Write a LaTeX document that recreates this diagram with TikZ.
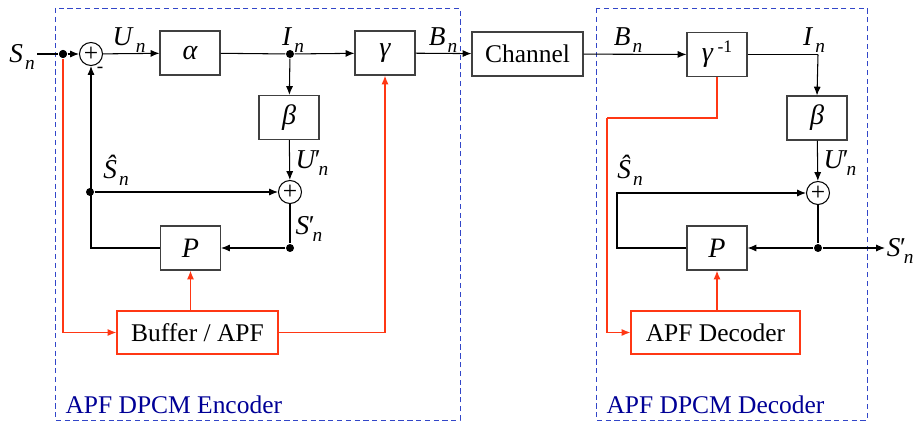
\documentclass[tikz,border=0pt]{standalone}
\usepackage{fontspec}
\setmainfont{Liberation Serif}
\usetikzlibrary{arrows.meta}
\definecolor{apfred}{RGB}{255,55,20}
\definecolor{frameblue}{RGB}{50,70,200}
\definecolor{capblue}{RGB}{0,0,150}
\newcommand{\sig}[2]{\textit{#1}\kern0.08em\raisebox{-0.55ex}{\fontsize{11}{12}\selectfont\textit{#2}}}
\newcommand{\pr}{\kern-0.08em′\kern-0.1em}
\begin{document}
\begin{tikzpicture}[x=0.02cm,y=-0.02cm,
	font=\fontsize{14.5}{17}\selectfont,
	>={Latex[length=5pt,width=4pt]},
	line width=0.6pt,
	blk/.style={draw=black!75, minimum width=1.2cm, minimum height=0.88cm, inner sep=0pt, font=\fontsize{16}{18}\selectfont\itshape},
	apfblk/.style={draw=apfred, minimum height=0.86cm, inner sep=0pt},
	sumc/.style={draw, circle, minimum size=0.46cm, inner sep=0pt},
	jdot/.style={fill, circle, minimum size=0.16cm, inner sep=0pt},
	dpcmframe/.style={draw=frameblue, dash pattern=on 3pt off 2pt, line width=0.5pt},
	sym/.style={font=\fontsize{15.5}{18}\selectfont, inner sep=0pt},
	redline/.style={draw=apfred, line width=0.8pt}]
	\useasboundingbox (0,0) rectangle (916,422);
	
	\draw[dpcmframe] (55,8) rectangle (460,420);
	\draw[dpcmframe] (596,8) rectangle (867,420);
	\node[anchor=base west, inner sep=0pt, text=capblue] (enccap) at (65,413) {APF DPCM Encoder};
	\node[anchor=base west, inner sep=0pt, text=capblue] (deccap) at (606,413) {APF DPCM Decoder};
	
	% encoder
	\coordinate (in) at (37,54);
	\node[jdot] (jin) at (63,54) {};
	\node[sumc] (sum1) at (91,54) {+};
	\node[blk] (alpha) at (190,53) {α};
	\node[jdot] (jI) at (290,54) {};
	\node[blk] (gamma) at (385,53) {γ};
	\node[blk] (beta) at (289,117.5) {β};
	\node[sumc] (sum2) at (290,192) {+};
	\node[jdot] (jS) at (90,192) {};
	\node[jdot] (jSp) at (290,248) {};
	\node[blk] (P) at (190.5,248) {P};
	\node[apfblk, minimum width=3.22cm] (buffer) at (197.5,332.5) {Buffer / APF};
	
	\node[blk, minimum width=2.22cm, font=\fontsize{14.5}{17}\selectfont] (channel) at (527.5,54) {Channel};
	
	\draw (in) -- (jin);
	\draw[->] (jin) -- (sum1.west);
	\draw[->] (sum1) -- (alpha);
	\draw (alpha) -- (jI);
	\draw[->] (jI) -- (gamma);
	\draw[->] (jI) -- (beta);
	\draw[->] (beta) -- (sum2);
	\draw[->] (jS) -- (sum2);
	\draw (sum2) -- (jSp);
	\draw[->] (jSp) -- (P);
	\draw[->] (P.west) -| (sum1.south);
	\draw[->] (gamma) -- (channel);
	
	\draw[redline,->] (jin) |- (buffer.west);
	\draw[redline,->] (P.south |- buffer.north) -- (P.south);
	\draw[redline,->] (buffer.east) -| (gamma.south);
	\node[jdot] at (jin) {};
	
	\node[sym] (lSn) at (22,57) {\sig{S}{n}};
	\node[font=\fontsize{11}{12}\selectfont] (minus) at (100,70) {-};
	\node[sym] (lUn) at (129,40) {\sig{U}{n}};
	\node[sym] (lIn) at (293,40) {\sig{I}{n}};
	\node[sym] (lBn) at (443,40) {\sig{B}{n}};
	\node[sym] (lUpn) at (312,163) {\sig{U\pr}{n}};
	\node[sym] (lShn) at (116,170) {\sig{Ŝ}{n}};
	\node[sym] (lSpn) at (309,229) {\sig{S\pr}{n}};
	
	% decoder
	\node[blk] (ginv) at (717,54.5) {γ\,\raisebox{0.7ex}{\fontsize{10}{12}\selectfont\upshape -1}};
	\coordinate (Icorner) at (818,54.5);
	\node[blk] (beta2) at (817,118) {β};
	\node[sumc] (sum3) at (818,193) {+};
	\node[jdot] (jD) at (818,248) {};
	\node[blk] (P2) at (717,248) {P};
	\coordinate (fbk) at (617,248);
	\coordinate (out) at (885,248);
	\coordinate (rbend) at (607,118);
	\node[apfblk, minimum width=3.38cm] (apfdec) at (715.5,332.5) {APF Decoder};
	
	\draw[->] (channel) -- (ginv);
	\draw (ginv.east) -- (Icorner);
	\draw[->] (Icorner) -- (beta2.north);
	\draw[->] (beta2) -- (sum3);
	\draw (sum3) -- (jD);
	\draw[->] (jD) -- (P2);
	\draw[->] (jD) -- (out);
	\draw[->] (P2.west) -- (fbk) |- (sum3.west);
	
	\draw[redline] (ginv.south) |- (rbend);
	\draw[redline,->] (rbend) |- (apfdec.west);
	\draw[redline,->] (P2.south |- apfdec.north) -- (P2.south);
	
	\node[sym] (lBn2) at (628,40) {\sig{B}{n}};
	\node[sym] (lIn2) at (814,40) {\sig{I}{n}};
	\node[sym] (lUpn2) at (840,163) {\sig{U\pr}{n}};
	\node[sym] (lShn2) at (630,170) {\sig{Ŝ}{n}};
	\node[sym, anchor=east] (lSpn2) at (914,251) {\sig{S\pr}{n}};
	
\end{tikzpicture}
\end{document}
